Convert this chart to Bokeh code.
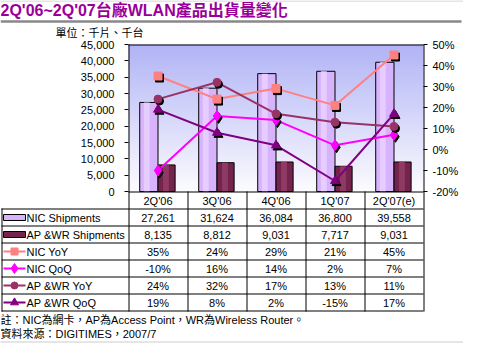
import numpy as np
from bokeh.plotting import figure
from bokeh.models import (Range1d, LinearAxis, FixedTicker, NumeralTickFormatter,
                          PrintfTickFormatter, ColumnDataSource)
from bokeh.transform import dodge
from bokeh.core.properties import value
from bokeh.embed import file_html
from bokeh.resources import INLINE

# ---------------- data ----------------
categories = ["2Q'06", "3Q'06", "4Q'06", "1Q'07", "2Q'07(e)"]
nic_shipments = [27261, 31624, 36084, 36800, 39558]
apwr_shipments = [8135, 8812, 9031, 7717, 9031]
nic_yoy = [35, 24, 29, 21, 45]
nic_qoq = [-10, 16, 14, 2, 7]
apwr_yoy = [24, 32, 17, 13, 11]
apwr_qoq = [19, 8, 2, -15, 17]
left_ticks = [0, 5000, 10000, 15000, 20000, 25000, 30000, 35000, 40000, 45000]
right_ticks = [-20, -10, 0, 10, 20, 30, 40, 50]
row_labels = ["NIC Shipments", "AP &WR Shipments", "NIC YoY", "NIC QoQ", "AP &WR YoY", "AP &WR QoQ"]
title_text = "2Q'06~2Q'07台廠WLAN產品出貨量變化"
unit_text = "單位：千片、千台"
note_lines = ["註：NIC為網卡，AP為Access Point，WR為Wireless Router。",
              "資料來源：DIGITIMES，2007/7"]

# ---------------- layout (pixels) ----------------
W, H = 463, 343
CX0, CW = 128, 59          # left edge of category columns, column width
PT, PB, RH = 44, 191, 17   # plot top, plot bottom, table row height
TL = 1                     # table left edge
LMAX = 45000
PMIN, PMAX = -20, 50

FONT = "Liberation Sans"
FONT_CJK = "Liberation Sans, Noto Sans CJK TC"

k = LMAX / (PB - PT)
kp = (PMAX - PMIN) / (PB - PT)
x_range = Range1d(-0.5 - CX0 / CW, -0.5 + (W - CX0) / CW)
y_range = Range1d(-(H - PB) * k, LMAX + PT * k)

p = figure(width=W, height=H, x_range=x_range, y_range=y_range,
           output_backend="svg", toolbar_location=None,
           x_axis_location=None, y_axis_location=None,
           min_border=0, outline_line_color=None,
           background_fill_color="white", border_fill_color="white")
p.extra_y_ranges = {"pct": Range1d(PMIN - (H - PB) * kp, PMAX + PT * kp),
                    "py": Range1d(H, 0)}
p.extra_x_ranges = {"px": Range1d(0, W)}
for g in p.grid:
    g.visible = False

# background gradient of plot area
n = 150
t = np.linspace(0, 1, n)
top = np.array([178, 180, 246]); bot = np.array([252, 252, 255])
cols = (bot[None, :] + (top - bot)[None, :] * t[:, None]).astype(np.uint8)
img = np.zeros((n, 4), dtype=np.uint32)
view = img.view(dtype=np.uint8).reshape((n, 4, 4))
for c in range(3):
    view[:, :, c] = cols[:, c][:, None]
view[:, :, 3] = 255
p.image_rgba(image=[img], x=-0.5, y=0, dw=5, dh=LMAX)

# bars
xs = list(range(len(categories)))
src = ColumnDataSource(dict(x=xs, nic=nic_shipments, ap=apwr_shipments,
                            nyoy=nic_yoy, nqoq=nic_qoq, ayoy=apwr_yoy, aqoq=apwr_qoq))
NIC_C, AP_C = "#D6B3FB", "#74244C"
p.vbar(x=dodge("x", -0.155, range=p.x_range), top="nic", bottom=0, width=0.31, source=src,
       fill_color=NIC_C, line_color="black", line_width=1)
p.vbar(x=dodge("x", -0.19, range=p.x_range), top="nic", bottom=0, width=0.1, source=src,
       fill_color="#E6CCFF", line_color=None)
p.vbar(x=dodge("x", 0.145, range=p.x_range), top="ap", bottom=0, width=0.29, source=src,
       fill_color=AP_C, line_color="black", line_width=1)
p.vbar(x=dodge("x", 0.135, range=p.x_range), top="ap", bottom=0, width=0.1, source=src,
       fill_color="#8E3A64", line_color=None)

# lines
series = [("nyoy", "#FF8080", "square", 8),
          ("nqoq", "#FF00FF", "diamond", 11),
          ("ayoy", "#993366", "circle", 8),
          ("aqoq", "#800080", "triangle", 9)]
dx, dy = 1.5 / CW, -2 * kp
for col, color, marker, size in series:
    p.line(x="x", y=col, source=src, y_range_name="pct", line_color=color, line_width=2)
for col, color, marker, size in series:
    p.scatter(x=dodge("x", dx, range=p.x_range), y=dodge(col, dy), source=src, y_range_name="pct",
              marker=marker, size=size, fill_color="black", line_color="black")
    p.scatter(x="x", y=col, source=src, y_range_name="pct", marker=marker, size=size,
              fill_color=color, line_color=color)

# axes
ax_l = LinearAxis(fixed_location=-0.5, ticker=FixedTicker(ticks=left_ticks),
                  formatter=NumeralTickFormatter(format="0,0"), bounds=(0, LMAX),
                  axis_line_color=None, major_tick_in=0, major_tick_out=4,
                  minor_tick_in=0, minor_tick_out=0, major_label_standoff=10,
                  major_label_text_font=FONT, major_label_text_font_size="11px",
                  major_label_text_color="black")
p.add_layout(ax_l, "left")
ax_r = LinearAxis(y_range_name="pct", fixed_location=4.5, ticker=FixedTicker(ticks=right_ticks),
                  formatter=PrintfTickFormatter(format="%d%%"), bounds=(PMIN, PMAX),
                  axis_line_color=None, major_tick_in=0, major_tick_out=4,
                  minor_tick_in=0, minor_tick_out=0, major_label_standoff=5,
                  major_label_text_font=FONT, major_label_text_font_size="11px",
                  major_label_text_color="black")
p.add_layout(ax_r, "right")

# frame / table lines (pixel layout)
RIGHT = CX0 + 5 * CW
nrows = len(row_labels)
TB = PB + RH * (nrows + 1)
hx0, hx1, hy = [], [], []
hx0 += [CX0, CX0]; hx1 += [RIGHT, RIGHT]; hy += [PT, PB]
for r in range(1, nrows + 2):
    hx0.append(TL); hx1.append(RIGHT); hy.append(PB + RH * r)
p.segment(x0=hx0, x1=hx1, y0=[v + 0.5 for v in hy], y1=[v + 0.5 for v in hy],
          x_range_name="px", y_range_name="py", line_color="black", line_width=1)
vx, vy0, vy1 = [CX0, RIGHT, TL], [PT, PT, PB + RH], [TB, TB, TB]
for c in range(1, 5):
    vx.append(CX0 + CW * c); vy0.append(PB); vy1.append(TB)
p.segment(x0=[v + 0.5 for v in vx], x1=[v + 0.5 for v in vx], y0=vy0, y1=[v + 1 for v in vy1],
          x_range_name="px", y_range_name="py", line_color="black", line_width=1)

# header category labels
p.text(x=xs, y=[PB + RH / 2 + 0.5] * len(xs), text=categories, y_range_name="py",
       text_font=value(FONT), text_font_size="11px", text_align="center",
       text_baseline="middle", text_color="black")

# table values
vals_text = [[f"{v:,}" for v in nic_shipments], [f"{v:,}" for v in apwr_shipments],
             [f"{v}%" for v in nic_yoy], [f"{v}%" for v in nic_qoq],
             [f"{v}%" for v in apwr_yoy], [f"{v}%" for v in apwr_qoq]]
tx, ty, tt = [], [], []
for r, row in enumerate(vals_text):
    for i, s in enumerate(row):
        tx.append(i); ty.append(PB + RH * (r + 1.5) + 0.5); tt.append(s)
p.text(x=tx, y=ty, text=tt, y_range_name="py", text_font=value(FONT), text_font_size="11px",
       text_align="center", text_baseline="middle", text_color="black")

# row labels and legend swatches
ry = [PB + RH * (r + 1.5) + 0.5 for r in range(nrows)]
p.text(x=[26] * nrows, y=ry, text=row_labels, x_range_name="px", y_range_name="py",
       text_font=value(FONT), text_font_size="11px", text_align="left",
       text_baseline="middle", text_color="black")
p.quad(left=[3, 3], right=[25, 25], top=[ry[0] - 3, ry[1] - 3], bottom=[ry[0] + 3, ry[1] + 3],
       x_range_name="px", y_range_name="py", fill_color=[NIC_C, AP_C], line_color="black")
for j, (col, color, marker, size) in enumerate(series):
    yy = ry[j + 2]
    p.line(x=[3, 25], y=[yy, yy], x_range_name="px", y_range_name="py",
           line_color=color, line_width=2)
    p.scatter(x=[14], y=[yy], x_range_name="px", y_range_name="py", marker=marker,
              size=size - 1, fill_color=color, line_color=color)

# title, unit, notes, rules
p.text(x=[0], y=[10], text=[title_text], x_range_name="px", y_range_name="py",
       text_font=value(FONT_CJK), text_font_size="16px", text_font_style="bold",
       text_color="#990099", text_align="left", text_baseline="middle")
p.segment(x0=[0], x1=[W - 2], y0=[21], y1=[21], x_range_name="px", y_range_name="py",
          line_color="#888888", line_width=2.5)
p.segment(x0=[0, 0], x1=[W, W], y0=[0.5, H - 1.5], y1=[0.5, H - 1.5], x_range_name="px",
          y_range_name="py", line_color="#999999", line_width=1, line_dash="1 1")
p.text(x=[55], y=[32], text=[unit_text], x_range_name="px", y_range_name="py",
       text_font=value(FONT_CJK), text_font_size="11px", text_color="black",
       text_align="left", text_baseline="middle")
p.text(x=[0, 0], y=[TB + 9, TB + 23], text=note_lines, x_range_name="px", y_range_name="py",
       text_font=value(FONT_CJK), text_font_size="11px", text_color="black",
       text_align="left", text_baseline="middle")

open("out.html", "w").write(file_html(p, INLINE))
